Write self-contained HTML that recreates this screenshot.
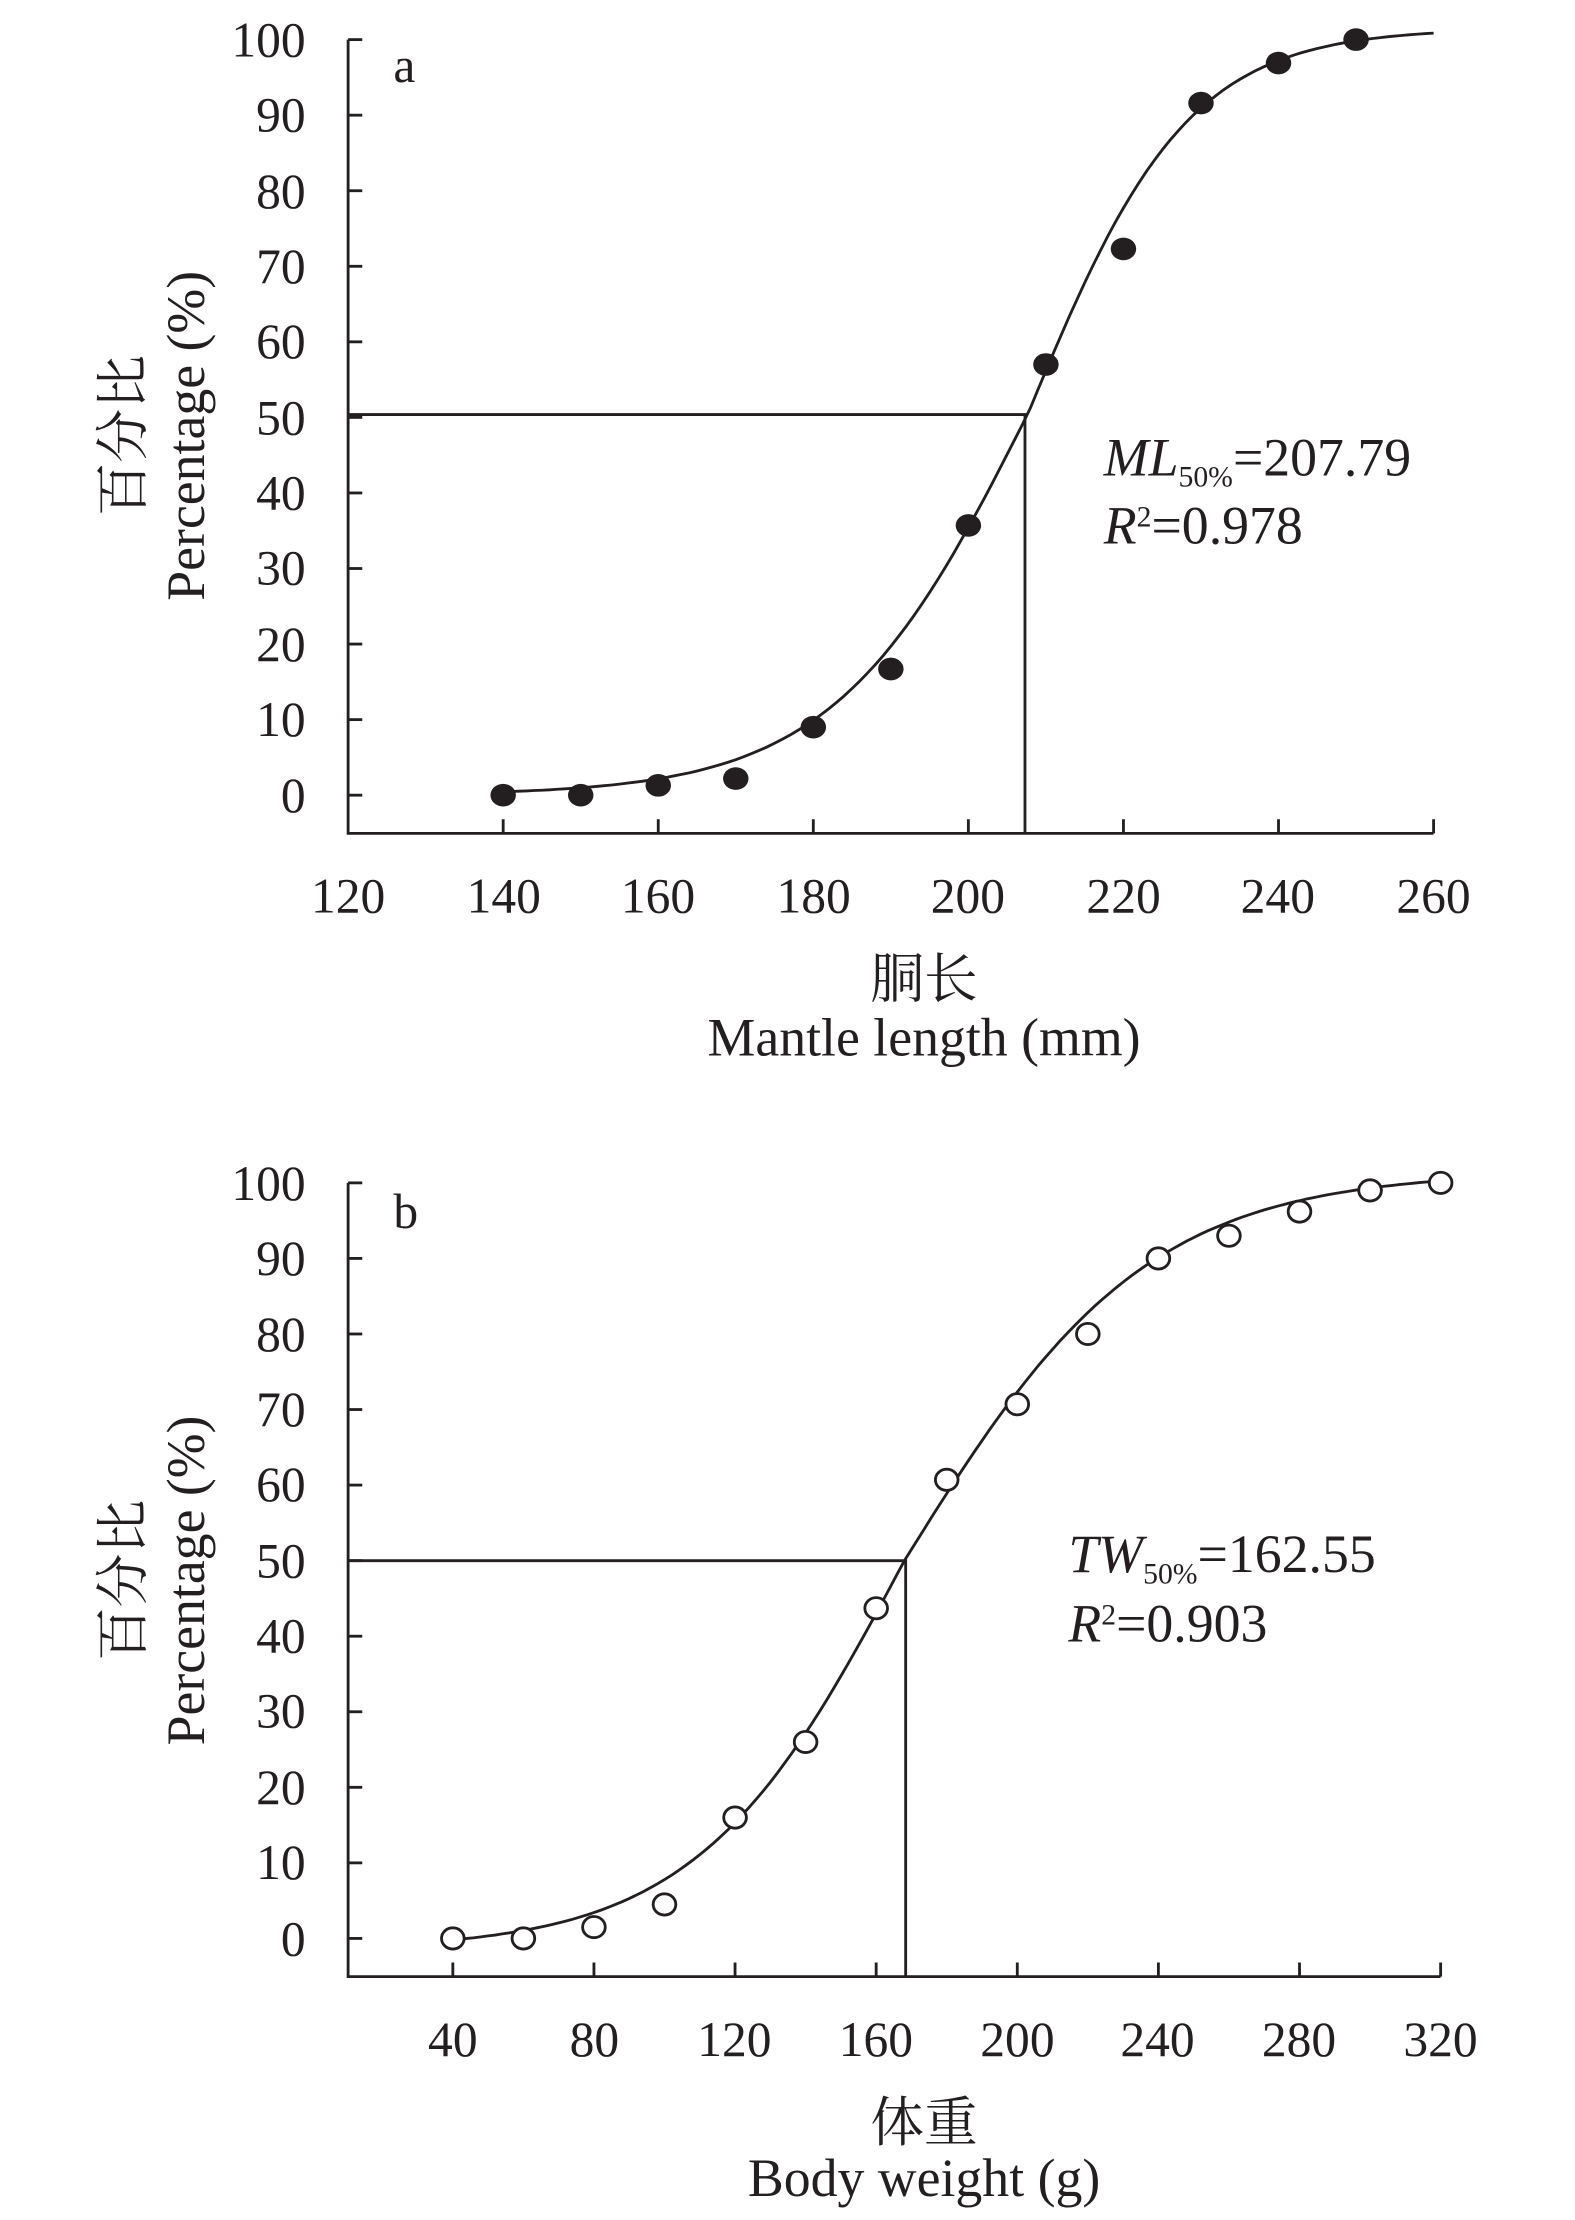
<!DOCTYPE html>
<html><head><meta charset="utf-8"><style>
html,body{margin:0;padding:0;background:#fff}
svg{display:block}
text{font-family:"Liberation Serif","Noto Serif CJK SC",serif;fill:#231f20}
.t{font-size:35px}
.x{font-size:38px}
</style></head><body>
<svg id="s" width="1575" height="2220" viewBox="0 0 1113 1569" preserveAspectRatio="none" xmlns="http://www.w3.org/2000/svg">
<g stroke="#231f20" stroke-width="2" fill="none" id="g"></g>
<g class="t" text-anchor="end">
<text x="216" y="40">100</text><text x="216" y="93">90</text><text x="216" y="147">80</text><text x="216" y="200">70</text><text x="216" y="253">60</text><text x="216" y="307">50</text><text x="216" y="360">40</text><text x="216" y="413">30</text><text x="216" y="467">20</text><text x="216" y="520">10</text><text x="216" y="574">0</text>
<text x="216" y="848">100</text><text x="216" y="901">90</text><text x="216" y="955">80</text><text x="216" y="1008">70</text><text x="216" y="1061">60</text><text x="216" y="1115">50</text><text x="216" y="1168">40</text><text x="216" y="1221">30</text><text x="216" y="1275">20</text><text x="216" y="1328">10</text><text x="216" y="1382">0</text>
</g>
<g class="t" text-anchor="middle">
<text x="246" y="645">120</text><text x="356" y="645">140</text><text x="465" y="645">160</text><text x="575" y="645">180</text><text x="684" y="645">200</text><text x="794" y="645">220</text><text x="903" y="645">240</text><text x="1013" y="645">260</text>
<text x="320" y="1453">40</text><text x="420" y="1453">80</text><text x="519" y="1453">120</text><text x="619" y="1453">160</text><text x="719" y="1453">200</text><text x="818" y="1453">240</text><text x="918" y="1453">280</text><text x="1018" y="1453">320</text>
</g>
<g class="x" text-anchor="middle">
<text x="653" y="705">胴长</text><text x="653" y="746">Mantle length (mm)</text>
<text x="653" y="1513">体重</text><text x="653" y="1552">Body weight (g)</text>
<text transform="translate(100,308) rotate(-90)">百分比</text>
<text transform="translate(144,308) rotate(-90)">Percentage (%)</text>
<text transform="translate(100,1117) rotate(-90)">百分比</text>
<text transform="translate(144,1117) rotate(-90)">Percentage (%)</text>
</g>
<text class="t" x="278" y="58">a</text>
<text class="t" x="278" y="868">b</text>
<text class="x" x="780" y="336"><tspan font-style="italic">ML</tspan><tspan font-size="21" dy="8">50%</tspan><tspan dy="-8">=207.79</tspan></text>
<text class="x" x="780" y="384"><tspan font-style="italic">R</tspan><tspan font-size="21" dy="-12">2</tspan><tspan dy="12">=0.978</tspan></text>
<text class="x" x="755" y="1111"><tspan font-style="italic">TW</tspan><tspan font-size="21" dy="8">50%</tspan><tspan dy="-8">=162.55</tspan></text>
<text class="x" x="755" y="1160"><tspan font-style="italic">R</tspan><tspan font-size="21" dy="-12">2</tspan><tspan dy="12">=0.903</tspan></text>
</svg>
<script>
var g=document.getElementById('g'),NS='http://www.w3.org/2000/svg';
function el(t,a){var e=document.createElementNS(NS,t);for(var k in a)e.setAttribute(k,a[k]);g.appendChild(e);return e;}
var ax=function(v){return 246+(v-120)*5.479},ay=function(v){return 562-v*5.34};
el('path',{d:'M246 28V589H1013'});
for(var v=0;v<=100;v+=10)el('path',{d:'M246 '+ay(v)+'h10'});
for(var v=140;v<=260;v+=20)el('path',{d:'M'+ax(v)+' 589v-10'});
el('path',{d:'M246 293H'+ax(207.3)+'V589'});
var p='';for(var x=140;x<=260;x+=1){var k=x<207.79?0.08:0.097;var y=101.5/(1+Math.exp(-k*(x-207.79)));p+=(x==140?'M':'L')+ax(x).toFixed(1)+' '+ay(y).toFixed(1);}
el('path',{d:p});
[[140,0],[150,0],[160,1.3],[170,2.2],[180,9],[190,16.7],[200,35.7],[210,57],[220,72.3],[230,91.6],[240,96.9],[250,100]].forEach(function(d){el('ellipse',{cx:ax(d[0]),cy:ay(d[1]),rx:9,ry:8,fill:'#231f20',stroke:'none'});});
var bx=function(v){return 320+(v-40)*2.493},by=function(v){return 1370-v*5.34};
el('path',{d:'M246 836V1397H1018'});
for(var v=0;v<=100;v+=10)el('path',{d:'M246 '+by(v)+'h10'});
for(var v=40;v<=320;v+=40)el('path',{d:'M'+bx(v)+' 1397v-10'});
el('path',{d:'M246 1103H640V1397'});
p='';for(var x=40;x<=320;x+=2){var k=x<168?0.034:0.029;var y=103/(1+Math.exp(-k*(x-168)))-1.5;p+=(x==40?'M':'L')+bx(x).toFixed(1)+' '+by(y).toFixed(1);}
el('path',{d:p});
[[40,0],[60,0],[80,1.5],[100,4.5],[120,16],[140,26],[160,43.7],[180,60.7],[200,70.7],[220,80],[240,90],[260,93],[280,96.2],[300,99],[320,100]].forEach(function(d){el('ellipse',{cx:bx(d[0]),cy:by(d[1]),rx:8,ry:7.5,fill:'#fff'});});
</script>
</body></html>
